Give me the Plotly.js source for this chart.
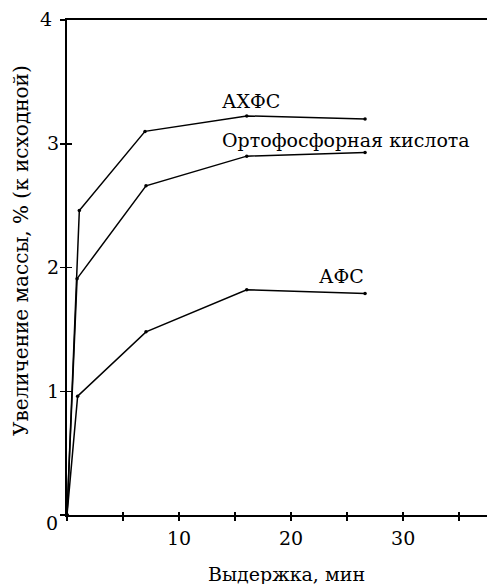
<!DOCTYPE html>
<html>
<head>
<meta charset="utf-8">
<script src="https://cdn.plot.ly/plotly-3.0.1.min.js"></script>
<style>
html, body { margin: 0; padding: 0; overflow: hidden; background: #fff; }
#chart { width: 504px; height: 584px; }
</style>
</head>
<body>
<div id="chart"></div>
<script>
// Data
const seriesNames = ["АХФС", "Ортофосфорная кислота", "АФС"];
const xAHFS  = [0, 1.1, 6.96, 16.04, 26.6];
const yAHFS  = [0, 2.46, 3.10, 3.225, 3.20];
const xOrtho = [0, 0.9, 7.05, 16.04, 26.6];
const yOrtho = [0, 1.91, 2.66, 2.90, 2.93];
const xAFS   = [0, 0.95, 7.05, 16.04, 26.6];
const yAFS   = [0, 0.96, 1.48, 1.82, 1.79];
const xTickVals = [0, 5, 10, 15, 20, 25, 30, 35];
const xTickText = ["", "", "10", "", "20", "", "30", ""];
const yTickVals = [0, 1, 2, 3, 4];
const yTickText = ["", "1", "2", "3", ""];
const originLabel = "0";
const topLabel = "4";
const xTitle = "Выдержка, мин";
const yTitle = "Увеличение массы, % (к исходной)";

const FONT = "DejaVu Serif";
const FS = 19;
const lineStyle = {color: "#000", width: 1.5};
const markerStyle = {color: "#000", size: 3.5};

function tr(x, y, name) {
  return {x: x, y: y, name: name, type: "scatter", mode: "lines+markers",
          line: lineStyle, marker: markerStyle, showlegend: false, hoverinfo: "none"};
}

const data = [
  tr(xAHFS, yAHFS, seriesNames[0]),
  tr(xOrtho, yOrtho, seriesNames[1]),
  tr(xAFS, yAFS, seriesNames[2]),
  // invisible trace to activate the overlay axes (inside ticks)
  {x: [0], y: [0], xaxis: "x2", yaxis: "y2", type: "scatter", mode: "markers",
   marker: {opacity: 0}, showlegend: false, hoverinfo: "none"}
];

const xRange = [0, 39];
const yRange = [0, 4];

const layout = {
  width: 504, height: 584,
  margin: {l: 67, r: 0, t: 20, b: 69},
  paper_bgcolor: "#fff", plot_bgcolor: "#fff",
  font: {family: FONT, size: FS, color: "#000"},
  xaxis: {
    range: xRange, showgrid: false, zeroline: false,
    showline: true, linecolor: "#000", linewidth: 2, mirror: true,
    ticks: "outside", ticklen: 4, tickwidth: 1.5, tickcolor: "#000",
    tickvals: xTickVals, ticktext: xTickText,
    ticklabelstandoff: 1,
    tickfont: {family: FONT, size: FS, color: "#000"}
  },
  yaxis: {
    range: yRange, showgrid: false, zeroline: false,
    showline: true, linecolor: "#000", linewidth: 2,
    ticks: "outside", ticklen: 5, tickwidth: 1.5, tickcolor: "#000",
    tickvals: yTickVals, ticktext: yTickText,
    ticklabelstandoff: -3,
    tickfont: {family: FONT, size: FS, color: "#000"}
  },
  xaxis2: {
    range: xRange, overlaying: "x", anchor: "y2", showgrid: false, zeroline: false,
    showline: false, ticks: "inside", ticklen: 3, tickwidth: 1.5, tickcolor: "#000",
    tickvals: xTickVals.slice(1), showticklabels: false
  },
  yaxis2: {
    range: yRange, overlaying: "y", anchor: "x2", showgrid: false, zeroline: false,
    showline: false, ticks: "inside", ticklen: 5, tickwidth: 1.5, tickcolor: "#000",
    tickvals: yTickVals.slice(1), showticklabels: false
  },
  annotations: [
    {text: seriesNames[0], x: 13.66, y: 3.345, xref: "x", yref: "y",
     xanchor: "left", yanchor: "middle", showarrow: false, font: {family: FONT, size: FS}},
    {text: seriesNames[1], x: 13.66, y: 3.03, xref: "x", yref: "y",
     xanchor: "left", yanchor: "middle", showarrow: false, font: {family: FONT, size: FS}},
    {text: seriesNames[2], x: 26.7, y: 1.93, xref: "x", yref: "y",
     xanchor: "right", yanchor: "middle", showarrow: false, font: {family: FONT, size: FS}},
    {text: originLabel, xref: "paper", yref: "paper", xanchor: "center", yanchor: "middle",
     showarrow: false, font: {family: FONT, size: FS}},
    {text: xTitle, xref: "paper", yref: "paper", xanchor: "center", yanchor: "middle",
     showarrow: false, font: {family: FONT, size: FS}},
    {text: yTitle, xref: "paper", yref: "paper", xanchor: "center", yanchor: "middle",
     textangle: -90, showarrow: false, font: {family: FONT, size: 20}},
    {text: topLabel, xref: "paper", yref: "paper", xanchor: "center", yanchor: "middle",
     showarrow: false, font: {family: FONT, size: FS}}
  ]
};

// Position the free text annotations in pixels via paper coordinates
const plotW = layout.width - layout.margin.l - layout.margin.r;
const plotH = layout.height - layout.margin.t - layout.margin.b;
function px2paperX(px) { return (px - layout.margin.l) / plotW; }
function px2paperY(py) { return (layout.height - layout.margin.b - py) / plotH; }
layout.annotations[3].x = px2paperX(52); layout.annotations[3].y = px2paperY(523);
layout.annotations[4].x = px2paperX(286); layout.annotations[4].y = px2paperY(574);
layout.annotations[5].x = px2paperX(21); layout.annotations[5].y = px2paperY(251);
layout.annotations[6].x = px2paperX(46); layout.annotations[6].y = px2paperY(19);

Plotly.newPlot("chart", data, layout, {staticPlot: true, displayModeBar: false});
</script>
</body>
</html>
